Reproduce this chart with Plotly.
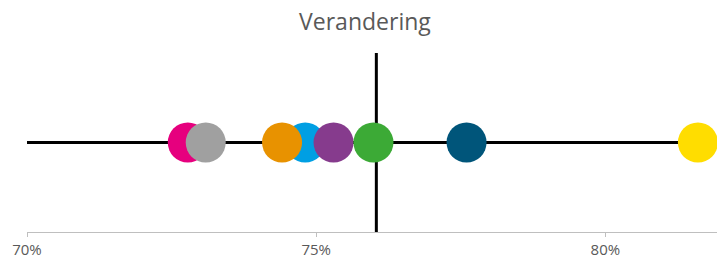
import plotly.graph_objects as go

# Data
series_names = ["Roze", "Grijs", "Blauw", "Oranje", "Paars", "Groen", "Donkerblauw", "Geel"]
series_values = [72.78, 73.09, 74.81, 74.41, 75.30, 75.99, 77.60, 81.60]
series_colors = ["#E6007E", "#A0A0A0", "#009FE3", "#E89200", "#863B8D", "#3CAA36", "#00557A", "#FFDD00"]
reference_value = 76.04
tick_values = [70, 75, 80]
tick_labels = ["70%", "75%", "80%"]
x_min, x_max = 70, 81.93

fig = go.Figure()

# horizontal base line
fig.add_trace(go.Scatter(x=[x_min, x_max], y=[0, 0], mode="lines",
                         line=dict(color="black", width=3), hoverinfo="skip", showlegend=False))
# vertical reference line
fig.add_trace(go.Scatter(x=[reference_value, reference_value], y=[-1, 1], mode="lines",
                         line=dict(color="black", width=3), hoverinfo="skip", showlegend=False))

for name, val, col in zip(series_names, series_values, series_colors):
    fig.add_trace(go.Scatter(x=[val], y=[0], mode="markers", name=name,
                             marker=dict(size=40, color=col, line=dict(width=0)),
                             showlegend=False, cliponaxis=False))

fig.update_layout(
    width=717, height=261,
    margin=dict(l=27, r=0, t=53, b=29),
    paper_bgcolor="white", plot_bgcolor="white",
    title=dict(text="Verandering", x=0.509, xanchor="center", y=1 - 22 / 261, yanchor="middle",
               yref="container", font=dict(family="Open Sans", size=23, color="#595959")),
    xaxis=dict(range=[x_min, x_max], tickvals=tick_values, ticktext=tick_labels,
               showgrid=False, zeroline=False, showline=True, linecolor="#BFBFBF", linewidth=1,
               ticks="outside", ticklen=4, tickcolor="#BFBFBF",
               tickfont=dict(family="Open Sans", size=15, color="#595959")),
    yaxis=dict(range=[-1, 1], visible=False, showgrid=False, zeroline=False),
    font=dict(family="Open Sans"),
)

fig.write_html("out.html", config={"displayModeBar": False},
               post_script="document.body.style.margin='0';document.body.style.overflow='hidden';")
